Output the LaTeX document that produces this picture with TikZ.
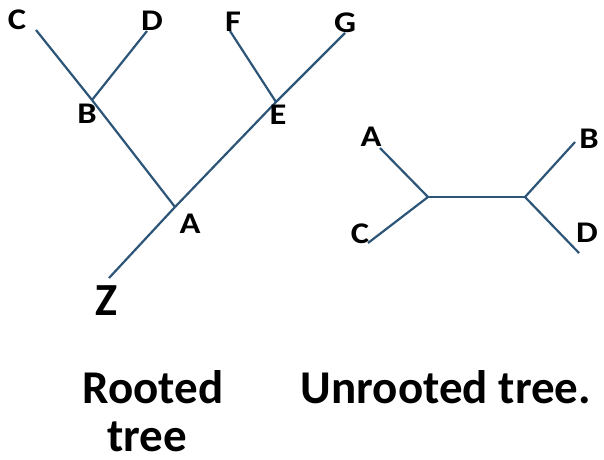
\documentclass[tikz,border=0pt]{standalone}
\usepackage{fontspec}
\setmainfont{Carlito}
\definecolor{branch}{RGB}{45,85,120}
\newcommand{\wideletter}[1]{\scalebox{1.15}[1]{#1}}
\begin{document}
\begin{tikzpicture}[x=1pt,y=-1pt,
  edge/.style={draw=branch,line width=2.2pt},
  lbl/.style={anchor=base,inner sep=0pt,font=\fontsize{30}{32}\selectfont\bfseries},
  biglbl/.style={anchor=base,inner sep=0pt,font=\fontsize{46}{48}\selectfont\bfseries},
  caption/.style={anchor=base,inner sep=0pt,font=\fontsize{47}{48}\selectfont\bfseries}]
\useasboundingbox (0,0) rectangle (604,459);
% rooted tree
\coordinate (cC) at (36,30);
\coordinate (cD) at (147,31);
\coordinate (cF) at (230,31);
\coordinate (cG) at (345,33);
\coordinate (jB) at (92,100);
\coordinate (jE) at (276,102);
\coordinate (jA) at (175,207);
\coordinate (cZ) at (109,278);
\draw[edge] (cC) -- (jB);
\draw[edge] (jB) -- (jA);
\draw[edge] (cD) -- (jB);
\draw[edge] (cF) -- (jE);
\draw[edge] (cG) -- (jE);
\draw[edge] (jE) -- (jA);
\draw[edge] (jA) -- (cZ);
\node[lbl] (lC) at (17,29) {\wideletter{C}};
\node[lbl] (lD) at (152,30) {\wideletter{D}};
\node[lbl] (lF) at (233,31) {\wideletter{F}};
\node[lbl] (lG) at (345,32) {\wideletter{G}};
\node[lbl] (lB) at (87,123) {\wideletter{B}};
\node[lbl] (lE) at (278,124) {\wideletter{E}};
\node[lbl] (lA) at (190,233) {\wideletter{A}};
\node[biglbl] (lZ) at (106,315) {Z};
% unrooted tree
\coordinate (uA) at (380,148);
\coordinate (uC) at (368,243);
\coordinate (uL) at (428,197);
\coordinate (uR) at (525,197);
\coordinate (uB) at (575,142);
\coordinate (uD) at (579,253);
\draw[edge] (uA) -- (uL);
\draw[edge] (uC) -- (uL);
\draw[edge] (uL) -- (uR);
\draw[edge] (uR) -- (uB);
\draw[edge] (uR) -- (uD);
\node[lbl] (uAl) at (371,146) {\wideletter{A}};
\node[lbl] (uBl) at (589,148) {\wideletter{B}};
\node[lbl] (uCl) at (360,243) {\wideletter{C}};
\node[lbl] (uDl) at (587,242) {\wideletter{D}};
% captions
\node[caption] (cap1) at (153,403) {Rooted};
\node[caption] (cap2) at (147,451) {tree};
\node[caption] (cap3) at (446,403) {Unrooted tree.};
\end{tikzpicture}
\end{document}
